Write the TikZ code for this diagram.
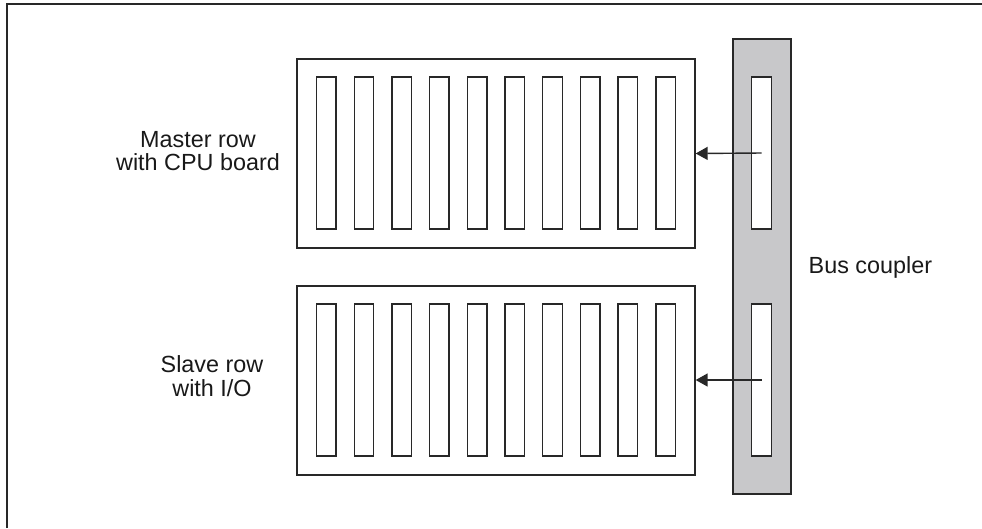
\documentclass[tikz,border=0pt]{standalone}
\usepackage{fontspec}
\setmainfont{Liberation Sans}
\usetikzlibrary{positioning, arrows.meta}

\definecolor{busgray}{RGB}{200,200,202}
\definecolor{linegray}{RGB}{40,40,40}

\begin{document}
\begin{tikzpicture}[x=0.02cm, y=-0.02cm, line width=0.8pt, draw=linegray,
  rowbox/.style={rectangle, draw=linegray, minimum width=7.96cm, minimum height=3.78cm, inner sep=0pt},
  slotbox/.style={rectangle, draw=linegray, fill=white, minimum width=0.39cm, minimum height=3.04cm, inner sep=0pt},
  label/.style={font=\fontsize{13.3}{13.4}\selectfont, text=black!90, align=center, inner sep=0pt}]
\useasboundingbox (0,0) rectangle (982,528);

% frame
\draw [linegray] (7,528) -- (7,4) -- (982,4);

\node [rowbox] (master) at (496,153.5) {};
\node [rowbox] (slave) at (496,380.5) {};
\node [rectangle, draw=linegray, fill=busgray, minimum width=1.16cm, minimum height=9.1cm, inner sep=0pt] (bus) at (762,266.5) {};

\foreach \i in {0,...,9} {
  \node [slotbox] (mslot\i) at (326.3+37.7*\i,153) {};
  \node [slotbox] (sslot\i) at (326.3+37.7*\i,380) {};
}
\node [slotbox] (busA) at (761.5,153) {};
\node [slotbox] (busB) at (761.5,380) {};

\node [label] (mastertxt) at (198,151) {Master row\\with CPU board};
\node [label] (slavetxt) at (212,376) {Slave row\\with I/O};
\node [label, anchor=base west] (bustxt) at (808,273) {Bus coupler};

\draw [-{Triangle[length=0.24cm, width=0.26cm]}, linegray] (busA.center) -- (master.east);
\draw [-{Triangle[length=0.24cm, width=0.26cm]}, linegray] (busB.center) -- (slave.east |- busB.center);

\end{tikzpicture}
\end{document}
